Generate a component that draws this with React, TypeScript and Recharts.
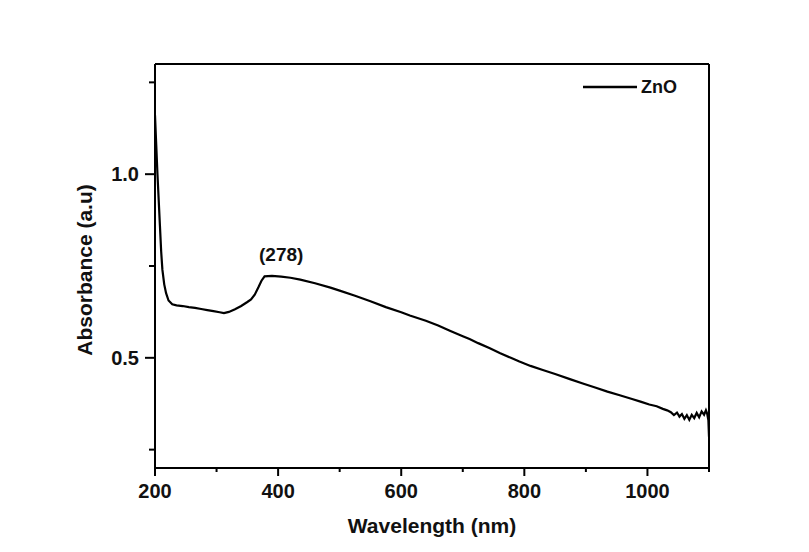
import React from 'react';
import { LineChart, Line, XAxis, YAxis, Legend, ReferenceDot, ReferenceLine } from 'recharts';

const wavelengths = [
  200, 202, 204, 206, 208, 210, 212, 215, 218, 222, 228, 235, 245, 255, 265, 275, 285, 295, 305, 312,
  320, 330, 340, 350, 356, 362, 368, 373, 378, 390, 405, 420, 436, 460, 485, 500, 525, 550, 575, 600,
  614, 640, 660, 679, 700, 711, 725, 744, 760, 778, 792, 810, 830, 850, 874, 895, 915, 935, 955, 975,
  990, 1003, 1015, 1025, 1032, 1038, 1043, 1048, 1052, 1056, 1060, 1064, 1068, 1072, 1076, 1080, 1084,
  1088, 1092, 1095, 1097, 1099, 1100,
];
const absorbance = [
  1.16, 1.08, 1.0, 0.93, 0.86, 0.79, 0.74, 0.7, 0.676, 0.656, 0.646, 0.643, 0.641, 0.638, 0.636, 0.633, 0.63, 0.627, 0.624, 0.622,
  0.625, 0.632, 0.641, 0.652, 0.659, 0.672, 0.692, 0.71, 0.722, 0.723, 0.721, 0.718, 0.713, 0.703, 0.691, 0.683, 0.669, 0.654, 0.638, 0.624,
  0.615, 0.601, 0.588, 0.574, 0.559, 0.551, 0.54, 0.526, 0.513, 0.5, 0.49, 0.478, 0.467, 0.456, 0.442, 0.43, 0.419, 0.408, 0.398, 0.388,
  0.38, 0.373, 0.368, 0.361, 0.357, 0.352, 0.344, 0.351, 0.34, 0.347, 0.334, 0.344, 0.331, 0.345, 0.336, 0.35, 0.338,
  0.354, 0.345, 0.357, 0.348, 0.33, 0.285,
];
const seriesName = 'ZnO';
const xTicks = [200, 300, 400, 500, 600, 700, 800, 900, 1000, 1100];
const xLabelTicks = [200, 400, 600, 800, 1000];
const yTicks = [0.25, 0.5, 0.75, 1.0, 1.25];
const yLabelTicks = [0.5, 1.0];
const xDomain = [200, 1100];
const yDomain = [0.2, 1.3];
const xTitle = 'Wavelength (nm)';
const yTitle = 'Absorbance (a.u)';
const peakText = '(278)';
const peakAnchorX = 405;
const peakAnchorY = 0.72;

const data = wavelengths.map((w, i) => ({ w, a: absorbance[i] }));

const FONT = '"Liberation Sans", Arial, Helvetica, sans-serif';

const XTick = (props: any) => {
  const { x, y, payload } = props;
  const major = xLabelTicks.includes(payload.value);
  return (
    <g>
      <line x1={x} x2={x} y1={y} y2={y + (major ? 8 : 4)} stroke="#000" strokeWidth={2} />
      {major && (
        <text x={x} y={y + 30} textAnchor="middle" fontSize={20} fontWeight="bold" fontFamily={FONT} fill="#111">
          {payload.value}
        </text>
      )}
    </g>
  );
};

const YTick = (props: any) => {
  const { x, y, payload } = props;
  const major = yLabelTicks.includes(payload.value);
  return (
    <g>
      <line x1={x} x2={x - (major ? 10 : 6)} y1={y} y2={y} stroke="#000" strokeWidth={2} />
      {major && (
        <text x={x - 16} y={y} dy="0.36em" textAnchor="end" fontSize={20} fontWeight="bold" fontFamily={FONT} fill="#111">
          {Number(payload.value).toFixed(1)}
        </text>
      )}
    </g>
  );
};

const renderXTitle = (p: any) => {
  const vb = p.viewBox;
  return (
    <text x={vb.x + vb.width / 2} y={vb.y + 65} textAnchor="middle" fontSize={21} fontWeight="bold" fontFamily={FONT} fill="#111">
      {xTitle}
    </text>
  );
};

const renderYTitle = (p: any) => {
  const vb = p.viewBox;
  const cx = vb.x + 17;
  const cy = vb.y + vb.height / 2 + 4;
  return (
    <text x={cx} y={cy} transform={`rotate(-90, ${cx}, ${cy})`} textAnchor="middle" fontSize={21} fontWeight="bold" fontFamily={FONT} fill="#111">
      {yTitle}
    </text>
  );
};

const renderPeak = (p: any) => {
  const vb = p.viewBox;
  return (
    <text x={vb.x} y={vb.y - 16} textAnchor="middle" fontSize={19} fontWeight="bold" fontFamily={FONT} fill="#111">
      {peakText}
    </text>
  );
};

const LegendContent = () => (
  <div style={{ display: 'flex', alignItems: 'center', height: 20 }}>
    <svg width={54} height={4} style={{ display: 'block' }}>
      <line x1={0} x2={54} y1={2} y2={2} stroke="#000" strokeWidth={2.5} />
    </svg>
    <span style={{ marginLeft: 4, fontFamily: FONT, fontWeight: 'bold', fontSize: 18, color: '#111', lineHeight: '20px' }}>
      {seriesName}
    </span>
  </div>
);

export default function App() {
  return (
    <div style={{ width: 800, height: 540, background: '#fff' }}>
      <LineChart width={800} height={540} data={data} margin={{ top: 56, right: 99, bottom: 0, left: 67 }}>
        <XAxis
          dataKey="w"
          type="number"
          domain={xDomain}
          ticks={xTicks}
          interval={0}
          allowDataOverflow
          height={80}
          tickSize={0}
          tickMargin={0}
          tickLine={false}
          tick={<XTick />}
          axisLine={{ stroke: '#000', strokeWidth: 2 }}
          label={renderXTitle}
        />
        <YAxis
          type="number"
          domain={yDomain}
          ticks={yTicks}
          interval={0}
          allowDataOverflow
          width={80}
          tickSize={0}
          tickMargin={0}
          tickLine={false}
          tick={<YTick />}
          axisLine={{ stroke: '#000', strokeWidth: 2 }}
          label={renderYTitle}
        />
        <ReferenceLine y={yDomain[1]} stroke="#000" strokeWidth={2} />
        <ReferenceLine x={xDomain[1]} stroke="#000" strokeWidth={2} />
        <Legend
          layout="horizontal"
          verticalAlign="middle"
          align="center"
          wrapperStyle={{ position: 'absolute', top: 69, left: 575, width: 140, height: 20 }}
          content={<LegendContent />}
        />
        <ReferenceDot x={peakAnchorX} y={peakAnchorY} r={0} fill="none" stroke="none" label={renderPeak} />
        <Line
          type="linear"
          dataKey="a"
          name={seriesName}
          stroke="#000"
          strokeWidth={2.2}
          dot={false}
          activeDot={false}
          isAnimationActive={false}
        />
      </LineChart>
    </div>
  );
}
